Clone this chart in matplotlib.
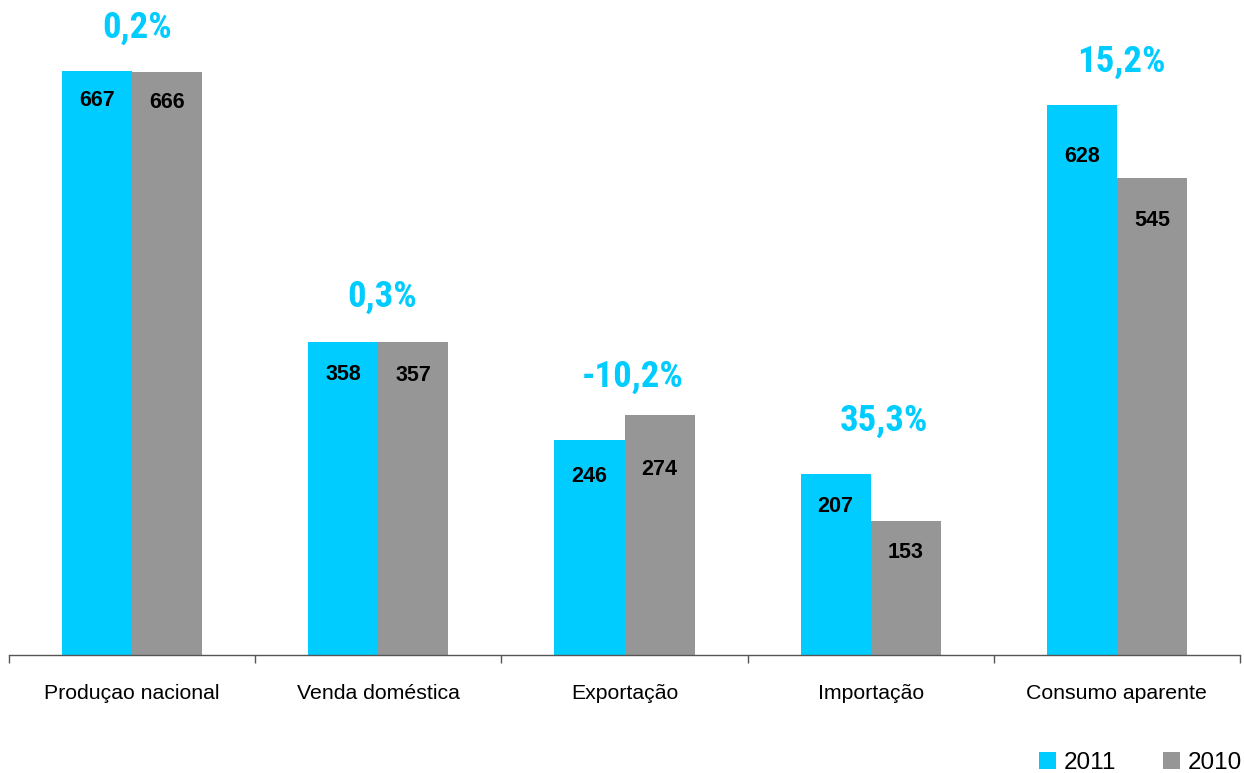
import matplotlib
matplotlib.use("Agg")
import matplotlib.pyplot as plt
import numpy as np
from matplotlib.patches import Patch

# --- data -------------------------------------------------------------
categories = ["Produçao nacional", "Venda doméstica", "Exportação",
              "Importação", "Consumo aparente"]
values_2011 = [667, 358, 246, 207, 628]
values_2010 = [666, 357, 274, 153, 545]
change_labels = ["0,2%", "0,3%", "-10,2%", "35,3%", "15,2%"]
series_names = ["2011", "2010"]

# --- layout / style ---------------------------------------------------
CYAN = "#00CCFF"
GRAY = "#969696"
AXIS = "#555555"
bar_w = 0.285
# vertical position of value labels, in pixels below each bar top
off_2011 = [29, 33, 37, 33, 51]
off_2010 = [31, 33, 54, 31, 43]
# position of the change labels, in pixels relative to the taller bar
chg_dy = [43, 45, 38, 53, 43]
chg_dx = [5, 4, 8, 13, 4]
NARROW = ["Roboto Condensed", "Archivo Narrow", "Open Sans Condensed", "DejaVu Sans"]

plt.rcParams["font.family"] = ["Liberation Sans", "DejaVu Sans"]

DPI = 100
fig = plt.figure(figsize=(12.44, 7.73), dpi=DPI)
W, H = 1244, 773
ax = fig.add_axes([9 / W, (H - 655) / H, (1240 - 9) / W, 655 / H])

x = np.arange(len(categories))
ax.bar(x - bar_w / 2, values_2011, bar_w, color=CYAN, label=series_names[0])
ax.bar(x + bar_w / 2, values_2010, bar_w, color=GRAY, label=series_names[1])

ax.set_xlim(-0.5, len(categories) - 0.5)
ax.set_ylim(0, 655 * 667 / 584)

for s in ["top", "right", "left"]:
    ax.spines[s].set_visible(False)
ax.spines["bottom"].set_color(AXIS)
ax.spines["bottom"].set_linewidth(1.0)
ax.set_yticks([])

ax.set_xticks(x)
ax.set_xticklabels(categories, fontsize=15.3)
ax.tick_params(axis="x", which="major", length=0, pad=21)
ax.set_xticks(np.arange(len(categories) + 1) - 0.5, minor=True)
ax.tick_params(axis="x", which="minor", length=6, color=AXIS, width=1.0)

px2pt = 72 / DPI
for i in range(len(categories)):
    ax.annotate(str(values_2011[i]), (x[i] - bar_w / 2, values_2011[i]),
                xytext=(0, -off_2011[i] * px2pt), textcoords="offset points",
                ha="center", va="center", fontsize=15.5, fontweight="bold")
    ax.annotate(str(values_2010[i]), (x[i] + bar_w / 2, values_2010[i]),
                xytext=(0, -off_2010[i] * px2pt), textcoords="offset points",
                ha="center", va="center", fontsize=15.5, fontweight="bold")
    top = max(values_2011[i], values_2010[i])
    ax.annotate(change_labels[i], (x[i], top),
                xytext=(chg_dx[i] * px2pt, chg_dy[i] * px2pt),
                textcoords="offset points", ha="center", va="center",
                fontsize=26.5, fontweight="bold", color=CYAN, family=NARROW)

handles = [Patch(facecolor=CYAN), Patch(facecolor=GRAY)]
fig.legend(handles, series_names, loc="center left",
           bbox_to_anchor=(1039 / W, (H - 763) / H), ncol=2, frameon=False,
           fontsize=17.5, handlelength=0.7, handleheight=0.7,
           handletextpad=0.3, columnspacing=1.95, borderpad=0,
           borderaxespad=0)

fig.savefig("out.png", dpi=DPI)
